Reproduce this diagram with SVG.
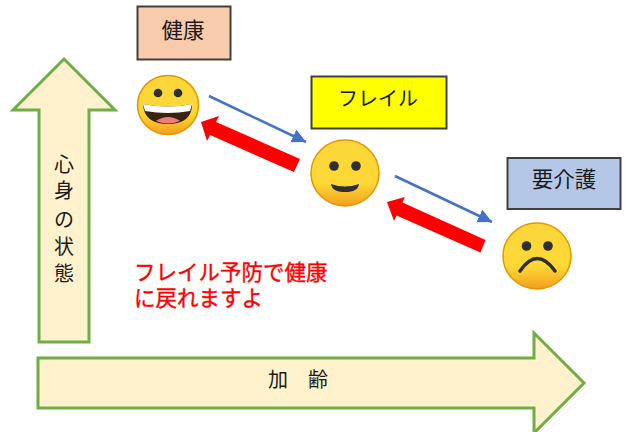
<svg xmlns="http://www.w3.org/2000/svg" width="628" height="432" viewBox="0 0 628 432">
<style>
text{font-family:"Liberation Sans","Noto Sans CJK JP",sans-serif;fill:#1a1a1a;text-anchor:middle}
.big{fill:#fff2cc;stroke:#70ad47;stroke-width:3}
.box{stroke:#404040;stroke-width:2}
.skin{fill:url(#skin);stroke:#e59600;stroke-width:1.5}
.eye{fill:#2f2f2f}
.red{fill:#ff0000}
.blue{stroke:#4472c4;stroke-width:2.500;fill:none;marker-end:url(#bluehead)}
.note{fill:#ff0000;stroke:#ff0000;stroke-width:0.350;font-size:21.500px;text-anchor:start}
</style>
<defs>
<linearGradient id="skin" x1="0" y1="0" x2="0" y2="1">
<stop offset="0" stop-color="#fbd63a"/><stop offset="0.66" stop-color="#fdd835"/><stop offset="1" stop-color="#f29f1f"/>
</linearGradient>
<marker id="bluehead" markerUnits="userSpaceOnUse" markerWidth="16" markerHeight="16" refX="14" refY="7" orient="auto">
<path d="M0 0L14 7L0 14Z" fill="#4472c4"/>
</marker>
</defs>
<rect width="628" height="432" fill="#fff"/>
<g id="axis-state">
<path class="big" d="M64 59L115 110H89V342H39V110H13Z"/>
<text font-size="20"><tspan x="64" y="172">心</tspan><tspan x="64" y="198">身</tspan><tspan x="64" y="227">の</tspan><tspan x="64" y="254">状</tspan><tspan x="64" y="281">態</tspan></text>
</g>
<g id="axis-age">
<path class="big" d="M38 358H534V333L584 383L534 433V408H38Z"/>
<text font-size="20" x="298" y="387">加　齢</text>
</g>
<g id="node-health">
<rect class="box" x="137.500" y="6.500" width="93" height="53" fill="#f8cbad"/>
<text font-size="21.500" x="183" y="38">健康</text>
<g id="face-health">
<ellipse class="skin" cx="168" cy="105" rx="30.500" ry="29.500"/>
<circle class="eye" cx="158" cy="93" r="4.300"/>
<circle class="eye" cx="178" cy="93" r="4.300"/>
<path d="M143 104Q168 109 192 104Q192 124 168 124Q144 124 143 104Z" fill="#3b2314"/>
<path d="M143 104Q168 109 192 104L190 111Q168 115 145 111Z" fill="#fff"/>
<path d="M156 121Q168 113 180 121Q168 126 156 121Z" fill="#ef7b7b"/>
</g>
</g>
<g id="node-frail">
<rect class="box" x="311.500" y="76.500" width="135" height="52" fill="#ffff00"/>
<text font-size="20" x="378" y="106">フレイル</text>
<g id="face-frail">
<ellipse class="skin" cx="345" cy="173" rx="34" ry="33"/>
<circle class="eye" cx="334" cy="166" r="4.800"/>
<circle class="eye" cx="356" cy="166" r="4.800"/>
<path d="M331 184Q345 189 359 184Q358 192 345 192Q332 192 331 184Z" fill="#2f2f2f"/>
</g>
</g>
<g id="node-care">
<rect class="box" x="507.500" y="158" width="113" height="51" fill="#b4c7e7"/>
<text font-size="21.500" x="564" y="187">要介護</text>
<g id="face-care">
<ellipse class="skin" cx="537" cy="256" rx="34" ry="33"/>
<circle class="eye" cx="526.500" cy="246" r="4.800"/>
<circle class="eye" cx="548" cy="246" r="4.800"/>
<path d="M520 271Q537 246 555 271" fill="none" stroke="#2f2f2f" stroke-width="3.500" stroke-linecap="round"/>
</g>
</g>
<g id="connectors">
<line class="blue" x1="209" y1="96" x2="306" y2="142"/>
<line class="blue" x1="395" y1="176" x2="492" y2="222"/>
<path class="red" d="M201 122L219 116L216 122L300 159L294 172L210 135L207 141Z"/>
<path class="red" d="M387 202L405 197L402.400 202.600L485.500 240L480.500 252.500L396.600 215.400L394 221Z"/>
</g>
<g id="note">
<text class="note"><tspan x="134" y="280">フレイル予防で健康</tspan><tspan x="134" y="306">に戻れますよ</tspan></text>
</g>
</svg>
